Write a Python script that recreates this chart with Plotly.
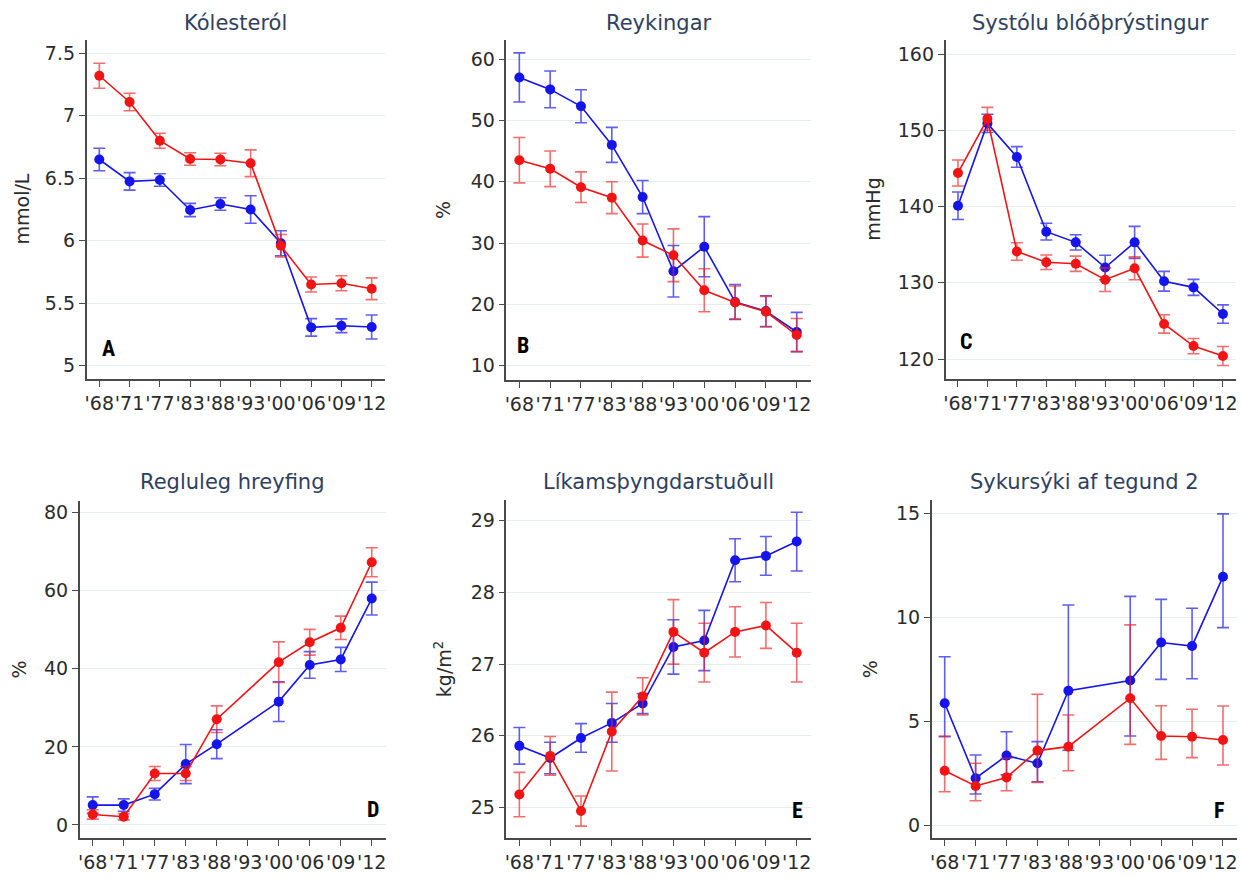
import plotly.graph_objects as go

# ---------------- data ----------------
years = ["'68", "'71", "'77", "'83", "'88", "'93", "'00", "'06", "'09", "'12"]

# A - Kólesteról (mmol/L)
chol_blue = [6.65, 6.475, 6.486, 6.246, 6.294, 6.25, 5.98, 5.307, 5.32, 5.31]
chol_blue_err = [0.09, 0.07, 0.05, 0.053, 0.05, 0.11, 0.10, 0.07, 0.055, 0.096]
chol_red = [7.32, 7.11, 6.80, 6.654, 6.65, 6.62, 5.96, 5.65, 5.66, 5.616]
chol_red_err = [0.10, 0.07, 0.06, 0.05, 0.05, 0.107, 0.09, 0.06, 0.06, 0.087]

# B - Reykingar (%)
smoke_blue = [57.0, 55.05, 52.3, 46.0, 37.5, 25.4, 29.4, 20.4, 18.9, 15.5]
smoke_blue_err = [4.0, 3.0, 2.7, 2.85, 2.7, 4.2, 4.9, 2.85, 2.5, 3.2]
smoke_red = [43.5, 42.1, 39.1, 37.4, 30.4, 28.0, 22.3, 20.3, 18.8, 15.0]
smoke_red_err = [3.7, 2.9, 2.5, 2.6, 2.7, 4.3, 3.5, 2.7, 2.5, 2.7]

# C - Systólu blóðþrýstingur (mmHg)
bp_blue = [140.1, 150.9, 146.5, 136.7, 135.3, 132.0, 135.3, 130.2, 129.4, 125.9]
bp_blue_err = [1.8, 1.2, 1.35, 1.1, 1.0, 1.6, 2.1, 1.3, 1.05, 1.2]
bp_red = [144.4, 151.5, 134.1, 132.7, 132.5, 130.4, 131.9, 124.6, 121.7, 120.4]
bp_red_err = [1.7, 1.5, 1.15, 0.95, 1.0, 1.55, 1.5, 1.2, 1.0, 1.25]

# D - Regluleg hreyfing (%)
ex_blue = [5.1, 5.1, 7.9, 15.6, 20.7, None, 31.6, 41.0, 42.4, 58.0]
ex_blue_err = [2.1, 1.6, 1.5, 5.0, 3.7, None, 5.1, 3.4, 3.1, 4.2]
ex_red = [2.7, 2.1, 13.2, 13.2, 27.1, None, 41.7, 46.8, 50.5, 67.3]
ex_red_err = [1.2, 0.8, 1.8, 1.8, 3.4, None, 5.2, 3.3, 3.0, 3.7]

# E - Líkamsþyngdarstuðull (kg/m2)
bmi_blue = [25.86, 25.69, 25.97, 26.18, 26.45, 27.24, 27.33, 28.45, 28.51, 28.71]
bmi_blue_err = [0.255, 0.22, 0.2, 0.27, 0.14, 0.38, 0.42, 0.3, 0.27, 0.41]
bmi_red = [25.18, 25.72, 24.95, 26.06, 26.55, 27.45, 27.16, 27.45, 27.54, 27.16]
bmi_red_err = [0.31, 0.27, 0.21, 0.55, 0.26, 0.45, 0.41, 0.35, 0.32, 0.41]

# F - Sykursýki af tegund 2 (%)
dm_blue = [5.86, 2.25, 3.34, 2.97, 6.46, None, 6.95, 8.78, 8.61, 11.95]
dm_blue_hi = [8.1, 3.37, 4.49, 4.01, 10.59, None, 11.0, 10.86, 10.43, 14.97]
dm_blue_lo = [4.25, 1.49, 2.41, 2.08, 3.6, None, 4.28, 7.01, 7.04, 9.5]
dm_red = [2.61, 1.88, 2.29, 3.58, 3.77, None, 6.1, 4.28, 4.25, 4.09]
dm_red_hi = [4.28, 2.97, 3.21, 6.29, 5.29, None, 9.63, 5.74, 5.57, 5.73]
dm_red_lo = [1.6, 1.17, 1.65, 2.05, 2.61, None, 3.88, 3.16, 3.24, 2.89]

titles = ["Kólesteról", "Reykingar", "Systólu blóðþrýstingur",
          "Regluleg hreyfing", "Líkamsþyngdarstuðull", "Sykursýki af tegund 2"]
ylabels = ["mmol/L", "%", "mmHg", "%", "kg/m<sup>2</sup>", "%"]
letters = ["A", "B", "C", "D", "E", "F"]
yticks = [
    [5, 5.5, 6, 6.5, 7, 7.5],
    [10, 20, 30, 40, 50, 60],
    [120, 130, 140, 150, 160],
    [0, 20, 40, 60, 80],
    [25, 26, 27, 28, 29],
    [0, 5, 10, 15],
]

# ---------------- layout geometry (pixels) ----------------
W, H = 1242, 878
panels = [
    dict(x=(86.6, 385.3), y=(40, 379), yr=(4.894, 7.606), ty=23, lx=21, let=(108, 348)),
    dict(x=(506.4, 810.6), y=(40, 380), yr=(7.67, 63.1), ty=23, lx=443, let=(523, 346)),
    dict(x=(945.6, 1236.2), y=(40, 379.3), yr=(117.34, 161.84), ty=23, lx=873, let=(966, 342)),
    dict(x=(79.7, 385.7), y=(500.7, 838.3), yr=(-3.41, 83.07), ty=482, lx=18, let=(373, 809)),
    dict(x=(506.4, 810.6), y=(500, 838.3), yr=(24.57, 29.29), ty=482, lx=443, let=(797, 810)),
    dict(x=(931.7, 1236.9), y=(500, 838.3), yr=(-0.64, 15.64), ty=482, lx=870, let=(1219, 810)),
]

BLUE = "rgb(20,20,235)"
RED = "rgb(240,20,20)"
BLUE_ERR = "rgba(40,40,240,0.75)"
RED_ERR = "rgba(240,30,30,0.65)"
FONT = "DejaVu Sans, Liberation Sans, Arial, sans-serif"

fig = go.Figure()


def err_dict(vals, plus, minus, color):
    if minus is None:
        return dict(type="data", array=plus, symmetric=True, color=color,
                    thickness=1.6, width=6)
    return dict(type="data", symmetric=False,
                array=[None if h is None else h - v for h, v in zip(plus, vals)],
                arrayminus=[None if l is None else v - l for l, v in zip(minus, vals)],
                color=color, thickness=1.6, width=6)


all_series = [
    (chol_blue, chol_blue_err, None, chol_red, chol_red_err, None),
    (smoke_blue, smoke_blue_err, None, smoke_red, smoke_red_err, None),
    (bp_blue, bp_blue_err, None, bp_red, bp_red_err, None),
    (ex_blue, ex_blue_err, None, ex_red, ex_red_err, None),
    (bmi_blue, bmi_blue_err, None, bmi_red, bmi_red_err, None),
    (dm_blue, dm_blue_hi, dm_blue_lo, dm_red, dm_red_hi, dm_red_lo),
]

for i, (b, be, bl, r, re_, rl) in enumerate(all_series):
    n = i + 1
    xa = "x" if n == 1 else f"x{n}"
    ya = "y" if n == 1 else f"y{n}"
    for vals, ep, em, col, ecol in ((b, be, bl, BLUE, BLUE_ERR), (r, re_, rl, RED, RED_ERR)):
        fig.add_trace(go.Scatter(
            x=years, y=vals, mode="lines+markers", connectgaps=True,
            line=dict(color=col, width=1.6),
            marker=dict(color=col, size=10),
            error_y=err_dict(vals, ep, em, ecol),
            xaxis=xa, yaxis=ya, showlegend=False, cliponaxis=False,
        ))

annotations = []
for i, p in enumerate(panels):
    n = i + 1
    xs = "" if n == 1 else str(n)
    dom_x = [p["x"][0] / W, p["x"][1] / W]
    dom_y = [1 - p["y"][1] / H, 1 - p["y"][0] / H]
    axis_common = dict(showline=True, linecolor="#4a4a4a", linewidth=1.5,
                       ticks="outside", ticklen=6, tickwidth=1.4, tickcolor="#4a4a4a",
                       tickfont=dict(family=FONT, size=19, color="#2b2b2b"),
                       zeroline=False, mirror=False, tickangle=0)
    fig.layout[f"xaxis{xs}"] = dict(
        domain=dom_x, anchor=f"y{xs}", type="category",
        categoryorder="array", categoryarray=years,
        range=[-0.42, 9.45], showgrid=False, **axis_common)
    fig.layout[f"yaxis{xs}"] = dict(
        domain=dom_y, anchor=f"x{xs}", range=list(p["yr"]),
        tickvals=yticks[i], showgrid=True, gridcolor="#e4eeef", gridwidth=1,
        **axis_common)
    cx = (p["x"][0] + p["x"][1]) / 2 / W
    annotations.append(dict(
        text=titles[i], x=cx, y=1 - p["ty"] / H, xref="paper", yref="paper",
        xanchor="center", yanchor="middle", showarrow=False,
        font=dict(family=FONT, size=21, color="#2f3f60")))
    cy = (p["y"][0] + p["y"][1]) / 2
    annotations.append(dict(
        text=ylabels[i], x=p["lx"] / W, y=1 - cy / H, xref="paper", yref="paper",
        xanchor="center", yanchor="middle", textangle=-90, showarrow=False,
        font=dict(family=FONT, size=19, color="#2b2b2b")))
    annotations.append(dict(
        text="<b>" + letters[i] + "</b>", x=p["let"][0] / W, y=1 - p["let"][1] / H,
        xref="paper", yref="paper", xanchor="center", yanchor="middle", showarrow=False,
        font=dict(family="Liberation Sans Narrow, Arial Narrow, Roboto Condensed, DejaVu Sans Condensed, Roboto, sans-serif",
                  size=22, color="#000000")))

fig.update_layout(
    width=W, height=H, template="none",
    margin=dict(l=0, r=0, t=0, b=0),
    paper_bgcolor="white", plot_bgcolor="white",
    annotations=annotations, showlegend=False,
)

fig.write_html("out.html", config={"displayModeBar": False},
               post_script="document.body.style.margin='0';document.body.style.overflow='hidden';")
